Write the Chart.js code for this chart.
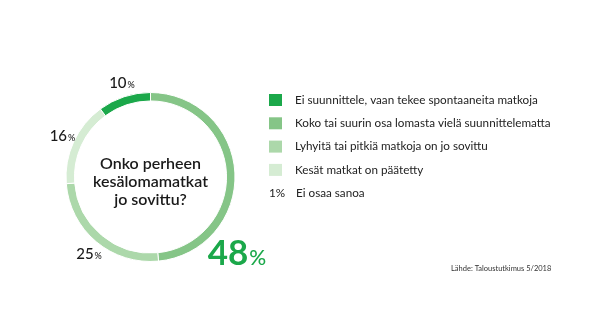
<!DOCTYPE html>
<html>
<head>
<meta charset="utf-8">
<script src="https://cdn.jsdelivr.net/npm/chart.js@4"></script>
<style>
  html, body { margin: 0; padding: 0; background: #fff; }
  #wrap { width: 600px; height: 334px; position: relative; }
</style>
</head>
<body>
<div id="wrap"><canvas id="tripChart"></canvas></div>
<script>
const categories = [
  'Koko tai suurin osa lomasta vielä suunnittelematta',
  'Lyhyitä tai pitkiä matkoja on jo sovittu',
  'Kesät matkat on päätetty',
  'Ei suunnittele, vaan tekee spontaaneita matkoja'
];
const values = [48, 25, 16, 10];
const colors = ['#85c587', '#acd8aa', '#d5ecd3', '#1ba84a'];

// legend order as in the picture
const legendOrder = [3, 0, 1, 2];
const otherLabel = 'Ei osaa sanoa';
const otherValue = 1;

const title = ['Onko perheen', 'kesälomamatkat', 'jo sovittu?'];
const source = 'Lähde: Taloustutkimus 5/2018';

const FONT = 'Lato, "DejaVu Sans", sans-serif';

const extras = {
  id: 'extras',
  afterDraw(chart) {
    const ctx = chart.ctx;
    const meta = chart.getDatasetMeta(0);
    const arc0 = meta.data[0];
    const cx = arc0.x, cy = arc0.y, R = arc0.outerRadius;
    ctx.save();

    // centre text
    ctx.fillStyle = '#1a1a1a';
    ctx.font = '600 16px ' + FONT;
    ctx.textAlign = 'center';
    ctx.textBaseline = 'middle';
    title.forEach((t, i) => ctx.fillText(t, cx, cy - 13 + i * 18));

    // percent labels
    meta.data.forEach((arc, i) => {
      const mid = (arc.startAngle + arc.endAngle) / 2;
      let big = values[i] === Math.max(...values);
      let ang = big ? mid + 0.77 : mid;
      let r = big ? R + 30 : R + 15;
      const x = cx + Math.cos(ang) * r;
      const y = cy + Math.sin(ang) * r;
      const num = String(values[i]);
      const nSize = big ? 35 : 15;
      const pSize = big ? 21 : 9;
      ctx.font = (big ? '700 ' : '500 ') + nSize + 'px ' + FONT;
      const wn = ctx.measureText(num).width;
      ctx.font = '500 ' + pSize + 'px ' + FONT;
      const wp = ctx.measureText('%').width;
      const x0 = x - (wn + wp) / 2 + (big ? 0 : 2);
      ctx.textAlign = 'left';
      ctx.textBaseline = 'alphabetic';
      const base = y + nSize * 0.36;
      ctx.fillStyle = big ? '#1ba84a' : '#1a1a1a';
      ctx.font = (big ? '700 ' : '500 ') + nSize + 'px ' + FONT;
      ctx.fillText(num, x0, base);
      ctx.font = '500 ' + pSize + 'px ' + FONT;
      ctx.fillText('%', x0 + wn + 1, base);
    });

    // legend
    const lx = 269, ly = 100, step = 23.3;
    ctx.font = '11.7px ' + FONT;
    ctx.textBaseline = 'middle';
    ctx.textAlign = 'left';
    legendOrder.forEach((k, row) => {
      const y = ly + row * step;
      ctx.fillStyle = colors[k];
      ctx.fillRect(lx, y - 6, 13, 12);
      ctx.fillStyle = '#222';
      ctx.fillText(categories[k], lx + 26, y);
    });
    const oy = ly + legendOrder.length * step;
    ctx.fillStyle = '#222';
    ctx.fillText(otherValue + '%', lx, oy);
    ctx.fillText(otherLabel, lx + 27, oy);

    // source
    ctx.font = '7.5px ' + FONT;
    ctx.fillStyle = '#333';
    ctx.fillText(source, 451, 269);
    ctx.restore();
  }
};

new Chart(document.getElementById('tripChart'), {
  type: 'doughnut',
  data: {
    labels: categories,
    datasets: [{
      data: values,
      backgroundColor: colors,
      borderColor: '#fff',
      borderWidth: 1
    }]
  },
  options: {
    responsive: true,
    maintainAspectRatio: false,
    animation: false,
    cutout: '90%',
    layout: { padding: { left: 65, right: 364, top: 92, bottom: 72 } },
    plugins: {
      legend: { display: false },
      tooltip: { enabled: false }
    }
  },
  plugins: [extras]
});
</script>
</body>
</html>
